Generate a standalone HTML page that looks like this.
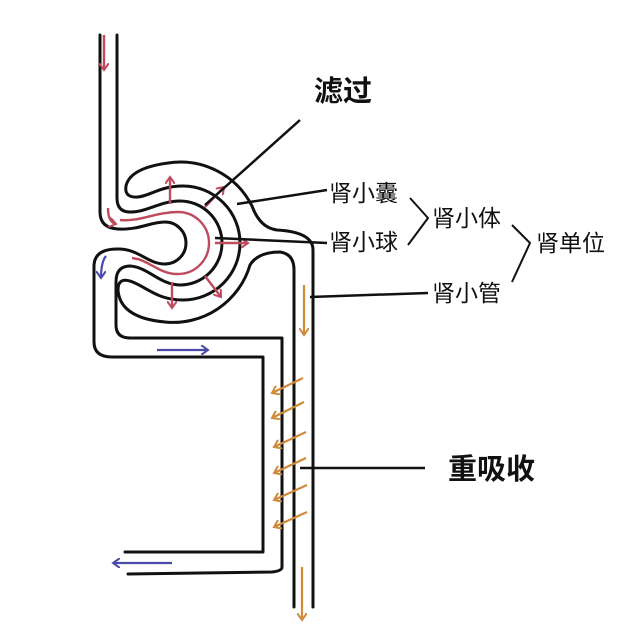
<!DOCTYPE html>
<html><head><meta charset="utf-8"><style>
html,body{margin:0;padding:0;background:#fff}
svg{display:block}
text{font-family:"Liberation Sans","Noto Sans CJK SC",sans-serif;fill:#111}
</style></head><body>
<svg width="640" height="640" viewBox="0 0 640 640" xmlns="http://www.w3.org/2000/svg">
<defs>
<marker id="r" markerWidth="10" markerHeight="10" refX="7" refY="5" orient="auto" markerUnits="userSpaceOnUse"><path d="M0,0 L7,5 L0,10" fill="none" stroke="#c04a5e" stroke-width="2"/></marker>
<marker id="b" markerWidth="10" markerHeight="10" refX="7" refY="5" orient="auto" markerUnits="userSpaceOnUse"><path d="M0,0 L7,5 L0,10" fill="none" stroke="#4a4aa8" stroke-width="2"/></marker>
<marker id="o" markerWidth="10" markerHeight="10" refX="7" refY="5" orient="auto" markerUnits="userSpaceOnUse"><path d="M0,0 L7,5 L0,10" fill="none" stroke="#d08a3a" stroke-width="2"/></marker>
</defs>
<g fill="none" stroke="#111" stroke-width="3" stroke-linecap="round" stroke-linejoin="round">
<path d="M100,35 V212 Q100,228 118,229 C140,230 150,222 165,222 A21,21 0 0 1 165,264 C148,264 140,250 120,249 Q95,248 94,265 V342 Q94,357 112,357 H263 V552 H125"/>
<path d="M117,35 V198 Q117,212 130,212 C148,212 160,201 180,201 A42,42 0 0 1 180,285 C160,285 148,267 130,266 Q116,266 116,282 V325 Q116,338 130,338 H282 V567 Q282,571 272,572 L128,574"/>
<path d="M183,300 A57,57 0 0 0 183,186 C160,186 150,196 138,197 Q124,198 126,186 Q130,168 168,163 A80,80 0 0 1 252,206 Q260,228 277,230 Q313,232 313,250 V607"/>
<path d="M183,300 C160,300 150,290 135,283 Q118,275 118,290 Q120,318 165,322 A80,80 0 0 0 250,265 Q258,252 280,252 Q294,254 294,270 V607"/>
</g>
<g fill="none" stroke="#c04a5e" stroke-width="2.4">
<path d="M108,208 Q108,222 116,224" marker-end="url(#r)"/>
<path d="M120,220 C140,222 155,212 178,212 A31,31 0 0 1 178,274 C158,274 150,260 132,258"/>
<path d="M170,204 V177" marker-end="url(#r)"/>
<path d="M205,207 L224,187" marker-end="url(#r)"/>
<path d="M215,243 H248" marker-end="url(#r)"/>
<path d="M205,276 L221,297" marker-end="url(#r)"/>
<path d="M172,282 V308" marker-end="url(#r)"/>
<path d="M104,35 V70" marker-end="url(#r)"/>
</g>
<g fill="none" stroke="#4a4aa8" stroke-width="2.2">
<path d="M106,256 Q101,262 101,278" marker-end="url(#b)"/>
<path d="M157,350 H208" marker-end="url(#b)"/>
<path d="M172,563 H113" marker-end="url(#b)"/>
</g>
<g fill="none" stroke="#d08a3a" stroke-width="2.2">
<path d="M304,285 V335" marker-end="url(#o)"/>
<path d="M302,567 V620" marker-end="url(#o)"/>
<path d="M303,378 L272,393" marker-end="url(#o)"/>
<path d="M304,402 L272,418" marker-end="url(#o)"/>
<path d="M306,432 L274,447" marker-end="url(#o)"/>
<path d="M306,458 L274,473" marker-end="url(#o)"/>
<path d="M307,485 L274,500" marker-end="url(#o)"/>
<path d="M307,512 L274,527" marker-end="url(#o)"/>
</g>
<g fill="none" stroke="#111" stroke-width="2.5">
<path d="M300,120 L205,205"/>
<path d="M237,204 L327,190"/>
<path d="M215,238 L327,243"/>
<path d="M310,297 L428,293"/>
<path d="M300,468 L425,468"/>
<path d="M410,198 L428,218 L408,245" stroke-width="2"/>
<path d="M512,225 L530,243 L512,282" stroke-width="2"/>
</g>
<text x="314" y="101" font-size="29" font-weight="bold">滤过</text>
<text x="329" y="201" font-size="23">肾小囊</text>
<text x="329" y="250" font-size="23">肾小球</text>
<text x="432" y="226" font-size="23">肾小体</text>
<text x="536" y="251" font-size="23">肾单位</text>
<text x="432" y="301" font-size="23">肾小管</text>
<text x="448" y="479" font-size="29" font-weight="bold">重吸收</text>
</svg>
</body></html>
